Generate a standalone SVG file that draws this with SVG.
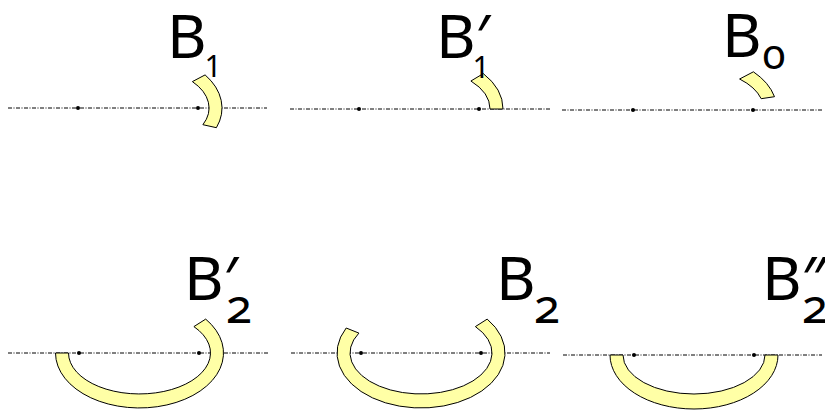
<svg xmlns="http://www.w3.org/2000/svg" width="825" height="416" viewBox="0 0 825 416">
<style>
.axis{stroke:#000;stroke-width:1;stroke-dasharray:4 1.5 1 1.5;fill:none}
.dot{fill:#000}
.band{fill:#ffffa6;stroke:#000;stroke-width:1;stroke-linejoin:miter}
.lbl{font-family:"Noto Sans","DejaVu Sans",sans-serif;font-size:61px;fill:#000}
.zero{font-size:42px;font-variant-numeric:oldstyle-nums}
.sub{font-size:48px;font-variant-numeric:oldstyle-nums}
.one{font-size:30px;font-variant-numeric:lining-nums}
</style>
<rect width="825" height="416" fill="#fff"/>

<g id="panel-B1">
<line class="axis" x1="8" y1="108" x2="267" y2="108"/>
<circle class="dot" cx="78" cy="108" r="2"/>
<circle class="dot" cx="198" cy="108" r="2"/>
<path class="band" d="M205.1 74.9 A84 55 0 0 1 216.4 127.7 L202.9 124.7 A71 41 0 0 0 192.4 81.6 Z"/>
<text class="lbl" x="167" y="58">B<tspan class="one" x="213" y="77" text-anchor="middle">1</tspan></text>
</g>

<g id="panel-B1p">
<line class="axis" x1="290" y1="109" x2="550" y2="109"/>
<circle class="dot" cx="359" cy="109" r="2"/>
<circle class="dot" cx="479" cy="109" r="2"/>
<path class="band" d="M483.3 73.6 A84 55 0 0 1 503 109 L490 109 A71 41 0 0 0 470.9 81 Z"/>
<text class="lbl" x="436" y="58">B′<tspan class="one" x="481" y="78" text-anchor="middle">1</tspan></text>
</g>

<g id="panel-B0">
<line class="axis" x1="562" y1="110" x2="822" y2="110"/>
<circle class="dot" cx="633" cy="110" r="2"/>
<circle class="dot" cx="753" cy="110" r="2"/>
<path class="band" d="M753.4 71.8 A84 55 0 0 1 774.5 96.7 L761.2 98.7 A71 41 0 0 0 739.6 79 Z"/>
<text class="lbl" x="722" y="57">B<tspan class="zero" x="774" y="69" text-anchor="middle">0</tspan></text>
</g>

<g id="panel-B2p">
<line class="axis" x1="8" y1="353" x2="268" y2="353"/>
<circle class="dot" cx="79" cy="353" r="2"/>
<circle class="dot" cx="199" cy="353" r="2"/>
<path class="band" d="M205.7 319.1 A84 55 0 1 1 55.5 353 L68.5 353 A71 41 0 1 0 193.9 326.6 Z"/>
<text class="lbl" x="184" y="300">B′<tspan class="sub" x="239" y="323" text-anchor="middle">2</tspan></text>
</g>

<g id="panel-B2">
<line class="axis" x1="291" y1="353" x2="550" y2="353"/>
<circle class="dot" cx="361" cy="353" r="2"/>
<circle class="dot" cx="481" cy="353" r="2"/>
<path class="band" d="M487.2 319.1 A84 55 0 1 1 346.2 328 L358.9 333.1 A71 41 0 1 0 475.4 326.6 Z"/>
<text class="lbl" x="496" y="300">B<tspan class="sub" x="547" y="323" text-anchor="middle">2</tspan></text>
</g>

<g id="panel-B2pp">
<line class="axis" x1="563" y1="355" x2="822" y2="355"/>
<circle class="dot" cx="634" cy="355" r="2"/>
<circle class="dot" cx="754" cy="355" r="2"/>
<path class="band" d="M778 355 A84 54 0 0 1 610 355 L623 355 A71 39 0 0 0 765 355 Z"/>
<text class="lbl" x="762" y="300">B″<tspan class="sub" x="815" y="323" text-anchor="middle">2</tspan></text>
</g>
</svg>
